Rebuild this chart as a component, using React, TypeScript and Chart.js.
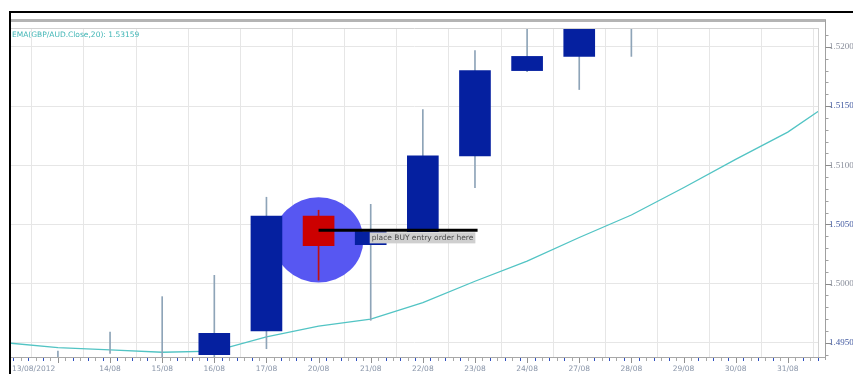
import React, { useEffect, useRef } from "react";
import { Chart, registerables } from "chart.js";
Chart.register(...registerables);

// ---- data ----
const dayLabels = ["13/08/2012", "14/08", "15/08", "16/08", "17/08", "20/08", "21/08", "22/08", "23/08", "24/08", "27/08", "28/08", "29/08", "30/08", "31/08"];
const opens: (number | null)[] = [1.4941, 1.4942, 1.4940, 1.4940, 1.4960, 1.5057, 1.5033, 1.5044, 1.5108, 1.5180, 1.5192, 1.5245, null, null, null];
const closes: (number | null)[] = [1.4941, 1.4942, 1.4940, 1.4958, 1.5057, 1.5032, 1.5044, 1.5108, 1.5180, 1.5192, 1.5245, 1.5270, null, null, null];
const highs: (number | null)[] = [1.4943, 1.4959, 1.4989, 1.5007, 1.5073, 1.5062, 1.5067, 1.5147, 1.5197, 1.5235, 1.5260, 1.5290, null, null, null];
const lows: (number | null)[] = [1.4930, 1.4941, 1.4930, 1.4935, 1.4945, 1.5003, 1.4969, 1.5044, 1.5081, 1.5179, 1.5164, 1.5192, null, null, null];

const emaX = [-1, 0, 1, 2, 3, 4, 5, 6, 7, 8, 9, 10, 11, 12, 13, 14, 15];
const emaValues = [1.4950, 1.4946, 1.4944, 1.4942, 1.4943, 1.4955, 1.4964, 1.4970, 1.4984, 1.5002, 1.5019, 1.5039, 1.5058, 1.5081, 1.5105, 1.5128, 1.5158];

const yTickValues = [1.495, 1.5, 1.505, 1.51, 1.515, 1.52];
const emaLegend = "EMA(GBP/AUD.Close,20): 1.53159";
const noteText = "place BUY entry order here";

const signalIndex = 5;
const entryPrice = 1.5045;
const entryLineEnd = 8.05;
const circleCenterPrice = 1.5037;
const circleRadiusX = 0.86;
const circleRadiusY = 0.0036;

const yMin = 1.4938;
const yMax = 1.5216;
const xMin = -0.9;
const xMax = 14.58;

export default function App() {
  const ref = useRef<HTMLCanvasElement>(null);

  useEffect(() => {
    const canvas = ref.current!;
    const idx = dayLabels.map((_, i) => i);
    const valid = idx.filter((i) => opens[i] != null);
    const withBody = valid.filter((i) => opens[i] !== closes[i]);
    const bodyData = withBody.map((i) => ({ x: i, y: [opens[i] as number, closes[i] as number] }));
    const wickData = valid.map((i) => ({ x: i, y: [lows[i] as number, highs[i] as number] }));
    const bear = (i: number) => (closes[i] as number) < (opens[i] as number);

    const deco = {
      id: "deco",
      beforeDraw(chart: any) {
        const c = chart.ctx;
        c.save();
        c.fillStyle = "#ffffff";
        c.fillRect(0, 0, chart.width, chart.height);
        c.restore();
      },
      beforeDatasetsDraw(chart: any) {
        const c = chart.ctx;
        const xs = chart.scales.x;
        const ys = chart.scales.y;
        const cx = xs.getPixelForValue(signalIndex);
        const cy = ys.getPixelForValue(circleCenterPrice);
        const rx = xs.getPixelForValue(signalIndex + circleRadiusX) - cx;
        const ry = cy - ys.getPixelForValue(circleCenterPrice + circleRadiusY);
        c.save();
        c.fillStyle = "#5757f2";
        c.beginPath();
        c.ellipse(cx, cy, rx, ry, 0, 0, Math.PI * 2);
        c.fill();
        c.restore();
      },
      afterDatasetsDraw(chart: any) {
        const c = chart.ctx;
        const xs = chart.scales.x;
        const ys = chart.scales.y;
        const x0 = xs.getPixelForValue(signalIndex);
        const x1 = xs.getPixelForValue(entryLineEnd);
        const yy = ys.getPixelForValue(entryPrice);
        c.save();
        c.strokeStyle = "#000000";
        c.lineWidth = 3;
        c.beginPath();
        c.moveTo(x0, yy);
        c.lineTo(x1, yy);
        c.stroke();
        c.font = "7.5px 'DejaVu Sans'";
        const tw = c.measureText(noteText).width;
        const bx = xs.getPixelForValue(signalIndex + 1) - 1;
        const by = yy + 2;
        c.fillStyle = "#cfcfcf";
        c.fillRect(bx, by, tw + 4, 11);
        c.fillStyle = "#4a4a4a";
        c.textBaseline = "middle";
        c.textAlign = "left";
        c.fillText(noteText, bx + 2, by + 5.5);
        c.restore();
      },
      afterDraw(chart: any) {
        const c = chart.ctx;
        const xs = chart.scales.x;
        const ys = chart.scales.y;
        const a = chart.chartArea;
        c.save();
        c.lineWidth = 1;
        c.strokeStyle = "#d2d2d2";
        c.beginPath();
        c.moveTo(a.left, a.top + 0.5);
        c.lineTo(a.right, a.top + 0.5);
        c.moveTo(a.right + 0.5, a.top);
        c.lineTo(a.right + 0.5, a.bottom);
        c.stroke();
        c.strokeStyle = "#a8a8a8";
        c.beginPath();
        c.moveTo(a.left, a.bottom + 0.5);
        c.lineTo(a.right + 8, a.bottom + 0.5);
        c.stroke();
        c.fillStyle = "#b4b4b4";
        c.fillRect(10, 19, 816, 3);
        c.strokeStyle = "#a0a0a0";
        const axX = a.right + 7.5;
        c.beginPath();
        c.moveTo(axX, 20);
        c.lineTo(axX, a.bottom + 3);
        c.stroke();
        for (let v = 1.494; v <= yMax + 1e-9; v += 0.001) {
          const py = Math.round(ys.getPixelForValue(v)) + 0.5;
          if (py < a.top || py > a.bottom) continue;
          const major = yTickValues.some((t) => Math.abs(t - v) < 1e-7);
          c.strokeStyle = major ? "#8a8a8a" : "#a0a0a0";
          c.beginPath();
          c.moveTo(axX, py);
          c.lineTo(axX + (major ? 6 : 3), py);
          c.stroke();
        }
        for (let i = Math.ceil(xMin * 7); i <= Math.floor(xMax * 7); i++) {
          const v = i / 7;
          const px = Math.round(xs.getPixelForValue(v)) + 0.5;
          const major = i % 7 === 0;
          c.strokeStyle = major ? "#909090" : (i % 2 === 0 ? "#3050c0" : "#a8a8a8");
          c.beginPath();
          c.moveTo(px, a.bottom + 1);
          c.lineTo(px, a.bottom + (major ? 6 : 4));
          c.stroke();
        }
        c.font = "7.5px 'DejaVu Sans'";
        c.fillStyle = "#8894a8";
        c.textBaseline = "middle";
        dayLabels.forEach((lab, i) => {
          if (i === 0) {
            c.textAlign = "left";
            c.fillText(lab, a.left + 1, a.bottom + 12);
          } else {
            c.textAlign = "center";
            c.fillText(lab, xs.getPixelForValue(i), a.bottom + 12);
          }
        });
        c.font = "7.5px 'DejaVu Sans'";
        c.fillStyle = "#3fb5b5";
        c.textAlign = "left";
        c.textBaseline = "middle";
        c.fillText(emaLegend, 12, 35);
        c.fillStyle = "#000000";
        c.fillRect(10, 11, chart.width - 10, 2);
        c.fillRect(9, 11, 2, chart.height - 11);
        c.restore();
      },
    };

    const chart = new Chart(canvas, {
      type: "bar",
      data: {
        datasets: [
          {
            type: "bar",
            label: "body",
            data: bodyData as any,
            backgroundColor: (ctx: any) => (bear(withBody[ctx.dataIndex]) ? "#cc0000" : "#0520a0"),
            barThickness: 31,
            grouped: false,
            borderWidth: 0,
            order: 1,
          },
          {
            type: "bar",
            label: "wick",
            data: wickData as any,
            backgroundColor: (ctx: any) => (bear(valid[ctx.dataIndex]) ? "#c01010" : "#8ea4b8"),
            barThickness: 1,
            grouped: false,
            borderWidth: 0,
            order: 2,
          },
          {
            type: "line",
            label: "ema",
            data: emaX.map((x, i) => ({ x, y: emaValues[i] })) as any,
            borderColor: "#52c4c4",
            borderWidth: 1.3,
            pointRadius: 0,
            tension: 0,
            order: 3,
          },
        ] as any,
      },
      options: {
        responsive: false,
        maintainAspectRatio: false,
        animation: false,
        layout: { padding: { top: 28, left: 11, right: 0, bottom: 0 } },
        plugins: { legend: { display: false }, tooltip: { enabled: false } },
        scales: {
          x: {
            type: "linear",
            min: xMin,
            max: xMax,
            offset: false,
            afterBuildTicks: (s: any) => {
              s.ticks = idx.map((v) => ({ value: v }));
            },
            afterFit: (s: any) => {
              s.height = 17;
            },
            ticks: { display: false },
            grid: { color: "#e6e6e6", drawTicks: false },
            border: { display: false },
          },
          y: {
            type: "linear",
            position: "right",
            min: yMin,
            max: yMax,
            afterBuildTicks: (s: any) => {
              s.ticks = yTickValues.map((v) => ({ value: v }));
            },
            afterFit: (s: any) => {
              s.width = 35;
            },
            ticks: {
              padding: 11,
              callback: (v: any) => Number(v).toFixed(4),
              font: { family: "'Liberation Serif'", size: 9 },
              color: (ctx: any) => (ctx.index % 2 === 1 ? "#8a8f9c" : "#4058a0"),
            },
            grid: { color: "#e6e6e6", drawTicks: false },
            border: { display: false },
          },
        },
      } as any,
      plugins: [deco],
    });
    return () => chart.destroy();
  }, []);

  return (
    <div style={{ position: "fixed", left: 0, top: 0, width: 853, height: 374, background: "#fff" }}>
      <canvas ref={ref} width={853} height={374} style={{ display: "block", width: 853, height: 374 }} />
    </div>
  );
}
